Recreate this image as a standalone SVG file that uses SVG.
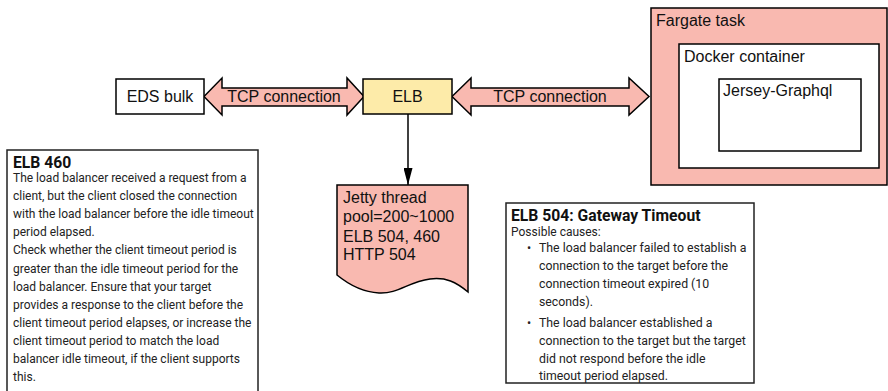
<svg xmlns="http://www.w3.org/2000/svg" width="888" height="391" viewBox="0 0 888 391">
<style>
.box{stroke:#000;stroke-width:1.5}
.lbl{font-family:"Liberation Sans",Arial,sans-serif;font-size:16px;fill:#111}
.note{fill:#fff;stroke:#222;stroke-width:1.5}
.t{font-family:Roboto,"Noto Sans",sans-serif;font-weight:bold;font-size:15.7px;fill:#111}
.b{font-family:Roboto,"Noto Sans",sans-serif;font-size:12px;fill:#222}
.b2{font-family:Roboto,"Noto Sans",sans-serif;font-size:12.3px;fill:#222}
</style>
<defs>
<marker id="ah" viewBox="0 0 17 9" refX="17" refY="4.5" markerWidth="17" markerHeight="9" markerUnits="userSpaceOnUse" orient="auto">
<path d="M0,0 L17,4.5 L0,9 Z" fill="#000"/>
</marker>
</defs>
<g id="connectors">
<polygon id="tcp1" class="box" fill="#f9b9b0" points="204,96.5 222,78 222,88 347,88 347,78 364,96.5 347,115 347,106 222,106 222,115"/>
<text class="lbl" x="284" y="101.5" text-anchor="middle">TCP connection</text>
<polygon id="tcp2" class="box" fill="#f9b9b0" points="452,96.5 471,78 471,88 629,88 629,78 649,96.5 629,115 629,106 471,106 471,115"/>
<text class="lbl" x="550" y="101.5" text-anchor="middle">TCP connection</text>
<line x1="408" y1="114" x2="408" y2="185" stroke="#000" stroke-width="1.5" marker-end="url(#ah)"/>
</g>
<g id="eds">
<rect class="box" x="116" y="79" width="88" height="35" fill="#fff"/>
<text class="lbl" x="160" y="102" text-anchor="middle">EDS bulk</text>
</g>
<g id="elb">
<rect class="box" x="363" y="79" width="89" height="35" fill="#fdeba9"/>
<text class="lbl" x="407.5" y="102" text-anchor="middle">ELB</text>
</g>
<g id="fargate">
<rect class="box" x="651" y="8" width="236" height="177" fill="#f9b9b0"/>
<text class="lbl" x="656" y="26">Fargate task</text>
</g>
<g id="docker">
<rect class="box" x="679" y="44" width="200" height="124" fill="#fff"/>
<text class="lbl" x="684" y="62">Docker container</text>
</g>
<g id="jersey">
<rect class="box" x="719" y="79" width="142" height="72" fill="#fff"/>
<text class="lbl" x="723" y="96">Jersey-Graphql</text>
</g>
<g id="jetty">
<path class="box" fill="#f9b9b0" d="M337,185 H468 V292 C456,282 446,277 430,279 C408,282 398,294 379,293 C361,292 348,284 337,275 Z"/>
<text class="lbl" x="343" y="203">Jetty thread</text>
<text class="lbl" x="343" y="222">pool=200~1000</text>
<text class="lbl" x="343" y="242">ELB 504, 460</text>
<text class="lbl" x="343" y="260">HTTP 504</text>
</g>
<g id="elb460">
<rect class="note" x="7" y="150" width="251" height="250"/>
<text class="t" x="13" y="167.5">ELB 460</text>
<text class="b" x="13" y="182">The load balancer received a request from a</text>
<text class="b" x="13" y="200.1">client, but the client closed the connection</text>
<text class="b" x="13" y="218.2">with the load balancer before the idle timeout</text>
<text class="b" x="13" y="236.3">period elapsed.</text>
<text class="b" x="13" y="254.4">Check whether the client timeout period is</text>
<text class="b" x="13" y="272.5">greater than the idle timeout period for the</text>
<text class="b" x="13" y="290.6">load balancer. Ensure that your target</text>
<text class="b" x="13" y="308.7">provides a response to the client before the</text>
<text class="b" x="13" y="326.8">client timeout period elapses, or increase the</text>
<text class="b" x="13" y="344.9">client timeout period to match the load</text>
<text class="b" x="13" y="363">balancer idle timeout, if the client supports</text>
<text class="b" x="13" y="381.1">this.</text>
</g>
<g id="elb504">
<rect class="note" x="506" y="203" width="248" height="180"/>
<text class="t" x="511" y="220.5">ELB 504: Gateway Timeout</text>
<text class="b" x="511" y="235.5">Possible causes:</text>
<text class="b2" x="527" y="251.5">•</text>
<text class="b2" x="539" y="251.5">The load balancer failed to establish a</text>
<text class="b2" x="539" y="269.5">connection to the target before the</text>
<text class="b2" x="539" y="287.5">connection timeout expired (10</text>
<text class="b2" x="539" y="305.5">seconds).</text>
<text class="b2" x="527" y="326.5">•</text>
<text class="b2" x="539" y="326.5">The load balancer established a</text>
<text class="b2" x="539" y="344.5">connection to the target but the target</text>
<text class="b2" x="539" y="362.5">did not respond before the idle</text>
<text class="b2" x="539" y="380">timeout period elapsed.</text>
</g>
</svg>
